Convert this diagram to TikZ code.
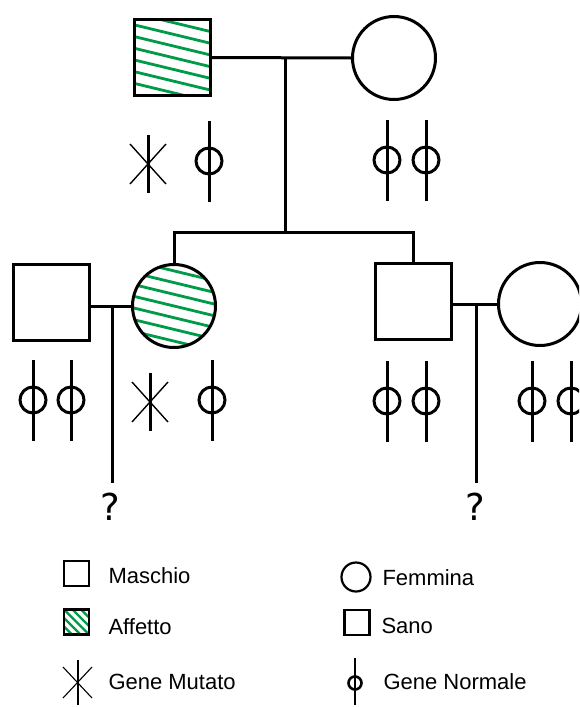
\documentclass[tikz,border=0pt]{standalone}
\usepackage{fontspec}
\setmainfont{Liberation Sans}
\newfontfamily\qfont{DejaVu Sans}
\definecolor{hatchgreen}{RGB}{0,155,72}
\begin{document}
\begin{tikzpicture}[x=1pt,y=-1pt,line width=3pt,
  male/.style={draw,rectangle,minimum size=76pt,inner sep=0pt,line width=3pt},
  female/.style={draw,circle,minimum size=83pt,inner sep=0pt,line width=3pt},
  hatched/.style={path picture={\foreach \k in {-9,...,9}{\draw[hatchgreen,line width=2.8pt,shift={(path picture bounding box.center)}] (-60,{\k*11.7-14.5}) -- (60,{\k*11.7+14.5});}}},
  lmale/.style={draw,rectangle,minimum size=25pt,inner sep=0pt,line width=2.2pt},
  lfemale/.style={draw,circle,minimum size=29pt,inner sep=0pt,line width=2.2pt},
  lhatch/.style={path picture={\foreach \k in {-5,...,5}{\draw[hatchgreen,line width=2.4pt,shift={(path picture bounding box.center)}] (-30,{\k*8.5-30}) -- (30,{\k*8.5+30});}}},
  ltext/.style={inner sep=0pt,anchor=base west,font=\fontsize{22}{24}\selectfont},
  qmark/.style={inner sep=0pt,anchor=base,font=\qfont\fontsize{37}{40}\selectfont},
  conn/.style={line width=3pt},
  pics/normgene/.style={code={
    \draw[line width=3pt] (0,-40) -- (0,41);
    \draw[line width=3pt] (0,0) circle[radius=13];}},
  pics/mutgene/.style={code={
    \draw[line width=3pt] (0,-29) -- (0,29);
    \draw[line width=1.4pt] (-18,-20) -- (18,20) (-18,20) -- (18,-20);}}
]
\clip (0,0) rectangle (579,707);
\fill[white] (0,0) rectangle (579,707);

% generation I
\node[male,hatched] (gf) at (172.5,57.5) {};
\node[female] (gm) at (394,58) {};
\draw[conn] (gf.east) -- (gm.west);
\coordinate (m1) at (285,58);
\coordinate (sib) at (285,232);
\draw[conn] (m1) -- (sib);

% generation II
\node[male] (h1) at (51.5,302) {};
\node[female,hatched] (d) at (174,306) {};
\node[male] (s) at (413.5,301.5) {};
\node[female] (w) at (540,304) {};
\draw[conn] (d.north) |- (sib) -| (s.north);
\draw[conn] (h1.east |- d.west) -- (d.west);
\draw[conn] (s.east |- w.west) -- (w.west);

% descendants
\coordinate (m2) at (112,306);
\coordinate (e2) at (112,483);
\draw[conn] (m2) -- (e2);
\node[qmark] (q1) at (110,520) {?};
\coordinate (m3) at (476,304);
\coordinate (e3) at (476,483);
\draw[conn] (m3) -- (e3);
\node[qmark] (q2) at (475,520) {?};

% genes
\pic at (148,164) {mutgene};
\pic at (209,161) {normgene};
\pic at (387,160) {normgene};
\pic at (426,160) {normgene};
\pic at (33,400) {normgene};
\pic at (71,400) {normgene};
\pic at (150,402) {mutgene};
\pic at (212,400) {normgene};
\pic at (387,401) {normgene};
\pic at (426,401) {normgene};
\pic at (532,401) {normgene};
\pic at (571,401) {normgene};

% legend
\node[lmale] (lm) at (76.5,573.5) {};
\node[ltext] (tm) at (107,583) {Maschio};
\node[lmale,lhatch] (la) at (76.5,622) {};
\node[ltext] (ta) at (107,634) {Affetto};
\node[lfemale] (lf) at (356,577) {};
\node[ltext] (tf) at (381,585) {Femmina};
\node[lmale] (ls) at (357,622.5) {};
\node[ltext] (ts) at (380,633) {Sano};
\draw[line width=2.2pt] (78,660) -- (78,705);
\draw[line width=1.1pt] (63,667) -- (92,698) (63,698) -- (92,667);
\node[ltext] (tmu) at (107,689) {Gene Mutato};
\draw[line width=2.6pt] (355,658) -- (355,705);
\draw[line width=2.6pt] (355,683) circle[radius=6.5];
\node[ltext] (tno) at (382,689) {Gene Normale};
\end{tikzpicture}
\end{document}
